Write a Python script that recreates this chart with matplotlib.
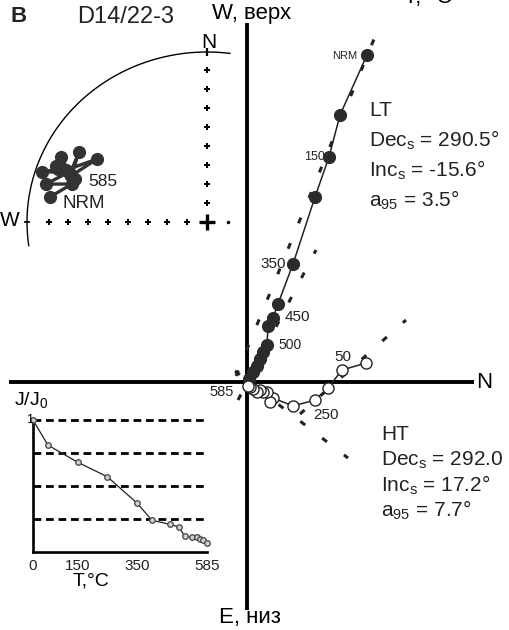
import numpy as np
import matplotlib
matplotlib.use("Agg")
import matplotlib.pyplot as plt

plt.rcParams['font.family'] = ['Liberation Sans', 'DejaVu Sans']
plt.rcParams['mathtext.fontset'] = 'custom'
plt.rcParams['mathtext.rm'] = 'Liberation Sans'
plt.rcParams['mathtext.it'] = 'Liberation Sans'
plt.rcParams['mathtext.bf'] = 'Liberation Sans:bold'

W, H = 509, 630

# ---------------- data ----------------
steps = [0, 50, 150, 250, 350, 400, 460, 490, 510, 535, 550, 560, 570, 585]
# vertical projection (N vs Up), filled symbols
vert_n = [12.0, 9.3, 8.2, 6.8, 4.6, 3.1, 2.6, 2.1, 2.0, 1.6, 1.3, 1.0, 0.6, 0.2]
vert_up = [32.7, 26.7, 22.5, 18.5, 11.8, 7.8, 6.4, 5.6, 3.7, 3.0, 2.3, 1.6, 1.0, 0.3]
# horizontal projection (N vs W), open symbols
horiz_n = [11.9, 9.5, 8.1, 6.8, 4.6, 2.6, 2.3, 2.0, 1.6, 1.3, 1.0, 0.6, 0.3, 0.1]
horiz_w = [1.9, 1.2, -0.6, -1.8, -2.4, -1.6, -2.0, -1.0, -1.0, -0.8, -1.0, -0.7, -0.5, -0.4]
# fitted component lines (x pair, y pair)
lt_vert_fit = ([-1.1, 13.4], [0.6, 36.0])
ht_vert_fit = ([-0.9, 6.9], [-1.8, 13.2])
lt_horiz_fit = ([5.3, 15.9], [-3.2, 6.2])
ht_horiz_fit = ([-1.2, 10.1], [1.1, -7.6])
# stereonet directions
stereo_dec = [279.6, 286.6, 284.0, 291.0, 287.8, 290.6, 295.2, 290.4, 300.1, 289.7, 301.2, 291.3, 291.4, 289.0]
stereo_inc = [12.6, 22.8, 8.6, 19.0, 4.2, 12.6, 11.3, 19.9, 19.0, 20.8, 29.3, 17.0, 10.8, 23.5]
# demagnetization curve
j_temp = [0, 50, 150, 250, 350, 400, 460, 490, 510, 535, 550, 560, 570, 585]
j_ratio = [1.0, 0.81, 0.68, 0.57, 0.37, 0.24, 0.21, 0.19, 0.12, 0.11, 0.11, 0.10, 0.09, 0.07]
j_ticks = [0, 150, 350, 585]

lt_text = ["LT", r"Dec$_\mathrm{s}$ = 290.5°", r"Inc$_\mathrm{s}$ = -15.6°", r"a$_\mathrm{95}$ = 3.5°"]
ht_text = ["HT", r"Dec$_\mathrm{s}$ = 292.0", r"Inc$_\mathrm{s}$ = 17.2°", r"a$_\mathrm{95}$ = 7.7°"]

fig = plt.figure(figsize=(W / 100, H / 100), dpi=100)


def P(px, py):
    return (px / W, 1 - py / H)


# ---------------- main Zijderveld diagram ----------------
ax = fig.add_axes([0, 0, 1, 1])
ax.set_xlim(-24.7, 26.2)
ax.set_ylim(-24.8, 38.2)
ax.axis('off')

ax.plot([-23.8, 22.7], [0, 0], color='black', lw=2.8, solid_capstyle='butt', zorder=1)
ax.plot([0, 0], [-22.8, 35.9], color='black', lw=2.8, solid_capstyle='butt', zorder=1)

dash = (0, (2.0, 7.0))
for fx, fy in (lt_vert_fit, ht_vert_fit, lt_horiz_fit, ht_horiz_fit):
    ax.plot(fx, fy, color='#222222', lw=2.2, linestyle=dash, zorder=2)

ax.plot(vert_n, vert_up, color='#222222', lw=1.1, zorder=3)
ax.plot(vert_n, vert_up, 'o', color='#2b2b2b', ms=9.5, mew=0, zorder=4)
ax.plot(horiz_n, horiz_w, color='#222222', lw=1.1, zorder=3)
ax.plot(horiz_n, horiz_w, 'o', mfc='white', mec='#222222', ms=8, mew=1.0, zorder=5)

# ---------------- stereonet inset ----------------
sax = fig.add_axes([20 / W, 1 - 250 / H, 220 / W, 220 / H])
sax.set_xlim(-187 / 180, 33 / 180)
sax.set_ylim(-28 / 170, 192 / 170)
sax.axis('off')
sax.patch.set_alpha(0)
th = np.radians(np.linspace(82.7, 188, 200))
sax.plot(np.cos(th), np.sin(th), color='black', lw=1.0)
dots = np.arange(1, 9) * 0.112
sax.plot(np.zeros_like(dots), dots, 'P', color='black', ms=4, mew=0)
hd = -np.arange(1, 9) * 0.11
sax.plot(hd, np.zeros_like(hd), 'P', color='black', ms=4, mew=0)
sax.plot([0.117], [0], 'o', color='black', ms=1.5)
sax.plot([0], [0], '+', color='black', ms=12, mew=2.4)
sax.plot([0], [1.0], '|', color='black', ms=6, mew=1.6)
sax.plot([-1.0], [0], '_', color='black', ms=5, mew=1.2)

dec = np.radians(stereo_dec)
R = np.sqrt(2) * np.sin(np.radians(90 - np.array(stereo_inc)) / 2)
sx, sy = R * np.sin(dec), R * np.cos(dec)
sax.plot(sx, sy, color='#333333', lw=2.4, zorder=3)
sax.plot(sx, sy, 'o', color='#333333', ms=9.5, mew=0, zorder=4)

# ---------------- J/J0 inset ----------------
jax = fig.add_axes([33 / W, 1 - 552 / H, 174 / W, 132 / H])
jax.set_xlim(0, 585)
jax.set_ylim(0, 1)
jax.patch.set_alpha(0)
for s in ('top', 'right'):
    jax.spines[s].set_visible(False)
for s in ('left', 'bottom'):
    jax.spines[s].set_linewidth(1.9)
for yv in (0.25, 0.5, 0.75, 1.0):
    jax.plot([0, 585], [yv, yv], color='black', lw=2.0, linestyle=(0, (2.8, 1.7)), clip_on=False)
jax.plot(j_temp, j_ratio, color='#222222', lw=0.9, clip_on=False, zorder=3)
jax.plot(j_temp, j_ratio, 'o', mfc='#d0d0d0', mec='#444444', ms=4, mew=0.9, clip_on=False, zorder=4)
jax.set_xticks(j_ticks)
jax.set_xticklabels([str(t) for t in j_ticks], fontsize=11, color='#222222')
jax.set_yticks([])
jax.tick_params(axis='x', length=0, pad=5)

# ---------------- texts ----------------
fig.text(*P(11, 17), "B", fontsize=16, fontweight='bold', va='center', ha='left', color='#222222')
fig.text(*P(77, 17), "D14/22-3", fontsize=17, va='center', ha='left', color='#222222')
fig.text(*P(212, 14), "W, верх", fontsize=16, va='center', ha='left', color='black')
fig.text(*P(404, 3), "T, °C", fontsize=16, va='baseline', ha='left', color='black')
fig.text(*P(209, 43), "N", fontsize=15, va='center', ha='center', color='black')
fig.text(*P(0, 221), "W", fontsize=15, va='center', ha='left', color='black')
fig.text(*P(88, 181), "585", fontsize=12.5, va='center', ha='left', color='#222222')
fig.text(*P(62, 203), "NRM", fontsize=13.5, va='center', ha='left', color='#222222')
fig.text(*P(357, 56), "NRM", fontsize=8, va='center', ha='right', color='#222222')
fig.text(*P(325, 157), "150", fontsize=9, va='center', ha='right', color='#222222')
fig.text(*P(286, 264), "350", fontsize=11, va='center', ha='right', color='#222222')
fig.text(*P(285, 317), "450", fontsize=11, va='center', ha='left', color='#222222')
fig.text(*P(278, 345), "500", fontsize=10, va='center', ha='left', color='#222222')
fig.text(*P(334, 357), "50", fontsize=11, va='center', ha='left', color='#222222')
fig.text(*P(313, 415), "250", fontsize=11, va='center', ha='left', color='#222222')
fig.text(*P(234, 392), "585", fontsize=10.5, va='center', ha='right', color='#222222')
fig.text(*P(476, 383), "N", fontsize=16, va='center', ha='left', color='black')
fig.text(*P(219, 617), "E, низ", fontsize=16, va='center', ha='left', color='black')
for i, t in enumerate(lt_text):
    fig.text(*P(369, 110 + 30 * i), t, fontsize=15, va='center', ha='left', color='#222222')
for i, t in enumerate(ht_text):
    fig.text(*P(381, 435 + 25 * i), t, fontsize=15, va='center', ha='left', color='#222222')
fig.text(*P(14, 400), r"J/J$_\mathrm{0}$", fontsize=14, va='center', ha='left', color='black')
fig.text(*P(26, 420), "1", fontsize=9, va='center', ha='left', color='black')
fig.text(*P(73, 581), "T,°C", fontsize=14, va='center', ha='left', color='black')

fig.savefig("out.png", dpi=100)
